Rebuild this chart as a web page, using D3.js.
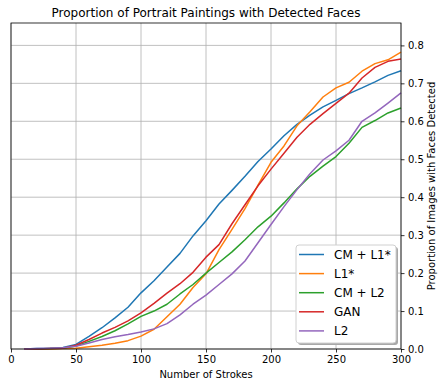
<!DOCTYPE html>
<html>
<head>
<meta charset="utf-8">
<script src="https://cdn.jsdelivr.net/npm/d3@7"></script>
<style>
  body { margin: 0; background: #fff; }
  text { font-family: "DejaVu Sans", sans-serif; fill: #000; }
</style>
</head>
<body>
<div id="chart-area"></div>
<script>
// number of strokes where the proportion was read
var strokes = [10, 20, 30, 40, 50, 60, 70, 80, 90, 100, 110, 120, 130, 140, 150,
  160, 170, 180, 190, 200, 210, 220, 230, 240, 250, 260, 270, 280, 290, 300];

var cmL1 = [0.000, 0.001, 0.002, 0.004, 0.012, 0.033, 0.056, 0.082, 0.110, 0.148,
  0.180, 0.216, 0.252, 0.298, 0.338, 0.382, 0.418, 0.455, 0.494, 0.527,
  0.562, 0.592, 0.616, 0.638, 0.655, 0.673, 0.688, 0.704, 0.721, 0.733];
var l1 = [0.000, 0.000, 0.000, 0.001, 0.002, 0.006, 0.010, 0.015, 0.022, 0.034,
  0.052, 0.085, 0.118, 0.162, 0.198, 0.262, 0.315, 0.370, 0.432, 0.492,
  0.535, 0.588, 0.625, 0.664, 0.688, 0.703, 0.732, 0.752, 0.762, 0.782];
var cmL2 = [0.000, 0.000, 0.001, 0.002, 0.008, 0.020, 0.033, 0.048, 0.066, 0.086,
  0.100, 0.118, 0.145, 0.170, 0.200, 0.228, 0.256, 0.288, 0.322, 0.350,
  0.385, 0.422, 0.455, 0.482, 0.507, 0.542, 0.584, 0.602, 0.622, 0.635];
var gan = [0.000, 0.000, 0.001, 0.002, 0.010, 0.025, 0.042, 0.057, 0.074, 0.095,
  0.120, 0.147, 0.172, 0.202, 0.242, 0.275, 0.330, 0.380, 0.430, 0.474,
  0.516, 0.558, 0.592, 0.620, 0.647, 0.674, 0.714, 0.742, 0.758, 0.764];
var l2 = [0.000, 0.001, 0.002, 0.003, 0.007, 0.016, 0.025, 0.032, 0.038, 0.045,
  0.053, 0.067, 0.090, 0.118, 0.142, 0.170, 0.198, 0.232, 0.280, 0.328,
  0.375, 0.420, 0.462, 0.498, 0.522, 0.550, 0.600, 0.622, 0.648, 0.675];

var seriesNames = ["CM + L1*", "L1*", "CM + L2", "GAN", "L2"];
var seriesValues = [cmL1, l1, cmL2, gan, l2];
var colors = ["#1f77b4", "#ff7f0e", "#2ca02c", "#d62728", "#9467bd"];

var xTicks = [0, 50, 100, 150, 200, 250, 300];
var yTicks = [0.0, 0.1, 0.2, 0.3, 0.4, 0.5, 0.6, 0.7, 0.8];

var W = 445, H = 387;
var margin = { left: 11, right: 44, top: 23, bottom: 38 };
var width = W - margin.left - margin.right,
    height = H - margin.top - margin.bottom;

var svg = d3.select("#chart-area")
  .append("svg")
    .attr("width", W)
    .attr("height", H);

var g = svg.append("g")
  .attr("transform", "translate(" + margin.left + "," + margin.top + ")");

var x = d3.scaleLinear().domain([0, 300]).range([0, width]);
var y = d3.scaleLinear().domain([0, 0.859]).range([height, 0]);

// grid
g.append("g").selectAll("line").data(xTicks).enter().append("line")
  .attr("x1", function(d) { return x(d); })
  .attr("x2", function(d) { return x(d); })
  .attr("y1", 0).attr("y2", height)
  .attr("stroke", "#b0b0b0").attr("stroke-width", 0.8);
g.append("g").selectAll("line").data(yTicks).enter().append("line")
  .attr("y1", function(d) { return y(d); })
  .attr("y2", function(d) { return y(d); })
  .attr("x1", 0).attr("x2", width)
  .attr("stroke", "#b0b0b0").attr("stroke-width", 0.8);

// lines
var line = d3.line()
  .x(function(d) { return x(d[0]); })
  .y(function(d) { return y(d[1]); });

seriesValues.forEach(function(vals, i) {
  g.append("path")
    .datum(strokes.map(function(s, j) { return [s, vals[j]]; }))
    .attr("fill", "none")
    .attr("stroke", colors[i])
    .attr("stroke-width", 1.5)
    .attr("stroke-linejoin", "round")
    .attr("d", line);
});

// axes
var xAxis = d3.axisBottom(x).tickValues(xTicks).tickSize(3.5).tickPadding(3.5)
  .tickFormat(d3.format("d"));
var xg = g.append("g")
  .attr("transform", "translate(0," + height + ")")
  .call(xAxis);
xg.select(".domain").remove();
xg.selectAll("line").attr("stroke", "#000").attr("stroke-width", 0.8);
xg.selectAll("text").attr("font-size", "10px").attr("font-family", "DejaVu Sans");

var yAxis = d3.axisRight(y).tickValues(yTicks).tickSize(3.5).tickPadding(3.5)
  .tickFormat(d3.format(".1f"));
var yg = g.append("g")
  .attr("transform", "translate(" + width + ",0)")
  .call(yAxis);
yg.select(".domain").remove();
yg.selectAll("line").attr("stroke", "#000").attr("stroke-width", 0.8);
yg.selectAll("text").attr("font-size", "10px").attr("font-family", "DejaVu Sans");

// frame
g.append("rect")
  .attr("width", width).attr("height", height)
  .attr("fill", "none").attr("stroke", "#000").attr("stroke-width", 0.8);

// title and labels
svg.append("text")
  .attr("x", margin.left + width / 2).attr("y", 17)
  .attr("text-anchor", "middle").attr("font-size", "12px")
  .text("Proportion of Portrait Paintings with Detected Faces");

svg.append("text")
  .attr("x", margin.left + width / 2).attr("y", 378)
  .attr("text-anchor", "middle").attr("font-size", "10px")
  .text("Number of Strokes");

svg.append("text")
  .attr("transform", "translate(434.5," + (margin.top + height / 2) + ") rotate(-90)")
  .attr("text-anchor", "middle").attr("font-size", "10px")
  .text("Proportion of Images with Faces Detected");

// legend
var lx = 296, ly = 245, lw = 100, lh = 98;
var legend = svg.append("g");
legend.append("rect")
  .attr("x", lx + 2).attr("y", ly + 2).attr("width", lw).attr("height", lh)
  .attr("rx", 3).attr("fill", "#a8a8a8");
legend.append("rect")
  .attr("x", lx).attr("y", ly).attr("width", lw).attr("height", lh)
  .attr("rx", 3).attr("fill", "#fff").attr("stroke", "#d0d0d0").attr("stroke-width", 1);

seriesNames.forEach(function(name, i) {
  var cy = ly + 9.5 + i * 19.1;
  legend.append("line")
    .attr("x1", lx + 3).attr("x2", lx + 28)
    .attr("y1", cy).attr("y2", cy)
    .attr("stroke", colors[i]).attr("stroke-width", 1.5);
  legend.append("text")
    .attr("x", lx + 38).attr("y", cy + 4.4)
    .attr("font-size", "12px")
    .text(name);
});
</script>
</body>
</html>
